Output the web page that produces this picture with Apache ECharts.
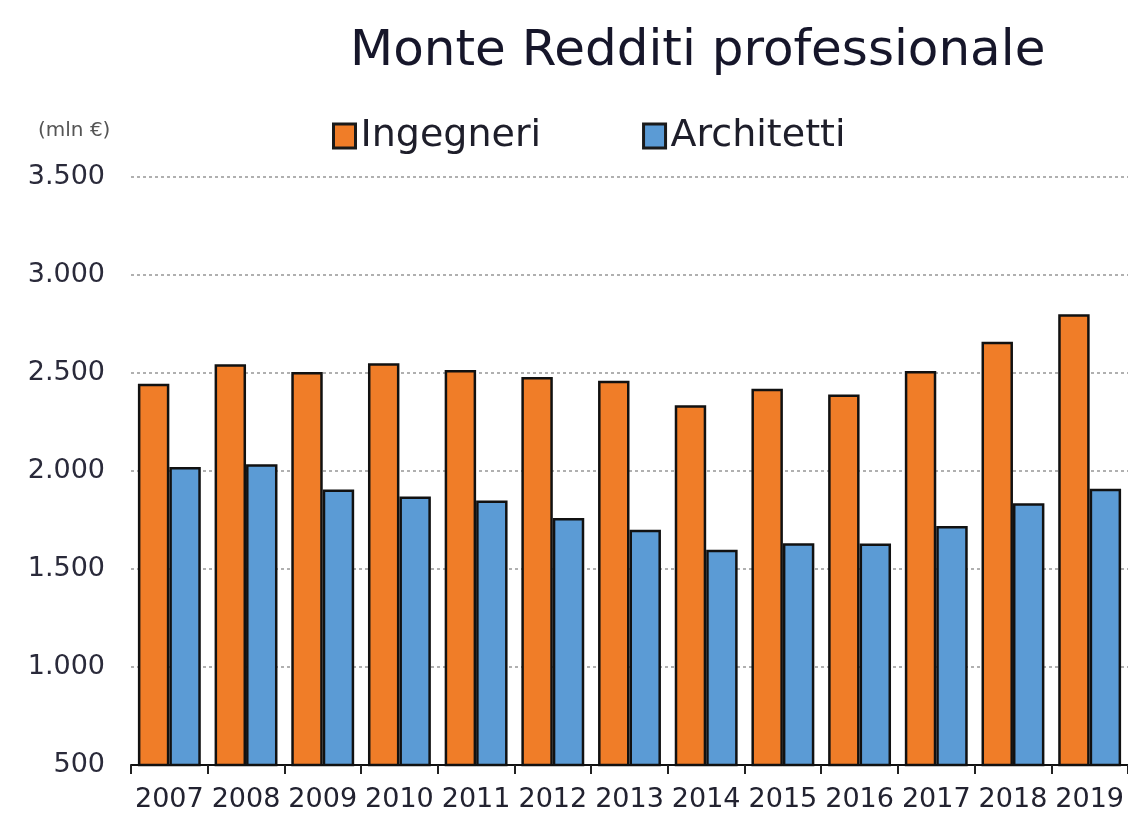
<!DOCTYPE html>
<html>
<head>
<meta charset="utf-8">
<script src="https://cdn.jsdelivr.net/npm/echarts@6/dist/echarts.min.js"></script>
<style>
html,body{margin:0;padding:0;background:#fff;}
#chart{width:1128px;height:814px;}
</style>
</head>
<body>
<div id="chart"></div>
<script>
const years = ['2007','2008','2009','2010','2011','2012','2013','2014','2015','2016','2017','2018','2019'];
const ingegneri = [2445, 2545, 2505, 2550, 2515, 2480, 2460, 2335, 2420, 2390, 2510, 2660, 2800];
const architetti = [2020, 2035, 1905, 1870, 1850, 1760, 1700, 1598, 1632, 1630, 1720, 1835, 1910];
const yTicks = { min: 500, max: 3500, interval: 500 };
const titleText = 'Monte Redditi professionale';
const unitText = '(mln €)';

const fmt = v => String(v).replace(/\B(?=(\d{3})+(?!\d))/g, '.');
const font = '"DejaVu Sans", Verdana, sans-serif';

const chart = echarts.init(document.getElementById('chart'));
chart.setOption({
  animation: false,
  backgroundColor: '#ffffff',
  title: {
    text: titleText,
    left: 345,
    top: 22,
    textStyle: { fontFamily: font, fontSize: 50, fontWeight: 'normal', color: '#16162a' }
  },
  graphic: [{
    type: 'text',
    left: 38,
    top: 121,
    style: { text: unitText, fontFamily: font, fontSize: 20, fill: '#555' }
  }],
  legend: {
    left: 327,
    top: 112,
    itemWidth: 22,
    itemHeight: 24,
    itemGap: 101,
    icon: 'rect',
    itemStyle: { borderColor: '#1a1a1a', borderWidth: 3 },
    textStyle: { fontFamily: font, fontSize: 38, color: '#1e1e2a' },
    data: ['Ingegneri', 'Architetti']
  },
  grid: { left: 131, top: 177, width: 997, height: 588, containLabel: false },
  xAxis: {
    type: 'category',
    data: years,
    axisLine: { lineStyle: { color: '#111', width: 2 } },
    axisTick: { show: true, length: 9, lineStyle: { color: '#222', width: 2 } },
    axisLabel: { interval: 0, fontFamily: font, fontSize: 27, color: '#222230', margin: 21 }
  },
  yAxis: {
    type: 'value',
    min: yTicks.min,
    max: yTicks.max,
    interval: yTicks.interval,
    axisLine: { show: false },
    axisTick: { show: false },
    axisLabel: { fontFamily: font, fontSize: 27, color: '#2a2a3a', margin: 26, formatter: fmt },
    splitLine: { show: true, lineStyle: { color: '#b0b0b0', type: [3, 3], width: 2 } }
  },
  series: [
    {
      name: 'Ingegneri',
      type: 'bar',
      data: ingegneri,
      barGap: '0%',
      barCategoryGap: '18%',
      itemStyle: { color: '#F07D28', borderColor: '#111', borderWidth: 2.5 }
    },
    {
      name: 'Architetti',
      type: 'bar',
      data: architetti,
      barGap: '0%',
      barCategoryGap: '18%',
      itemStyle: { color: '#5B9BD5', borderColor: '#111', borderWidth: 2.5 }
    }
  ]
});
</script>
</body>
</html>
